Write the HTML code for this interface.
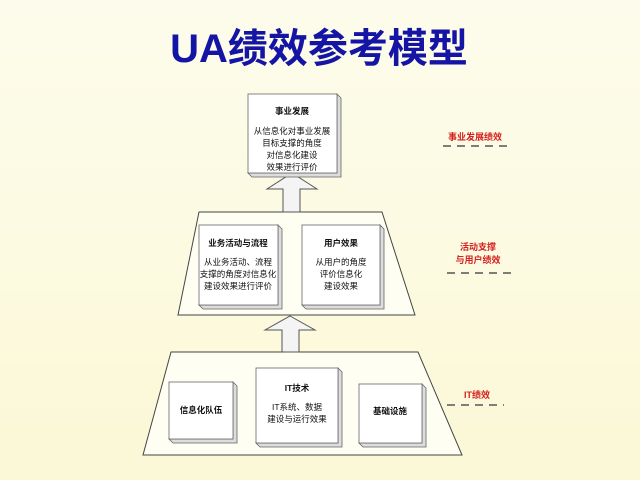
<!DOCTYPE html>
<html><head><meta charset="utf-8"><style>
html,body{margin:0;padding:0}
body{width:640px;height:480px;overflow:hidden;background:linear-gradient(180deg,#fdfcec 0%,#fbf8d6 100%);font-family:"Liberation Sans","Noto Sans CJK SC",sans-serif;}
</style></head><body>
<svg width="640" height="480" xmlns="http://www.w3.org/2000/svg" style="position:absolute;left:0;top:0;font-family:'Liberation Sans','Noto Sans CJK SC',sans-serif">
<text x="319" y="62" text-anchor="middle" font-size="40" font-weight="bold" fill="#1515a5">UA绩效参考模型</text>
<polygon points="199,212 382,212 415,315 178,315" fill="#fefef2" stroke="#444" stroke-width="1"/>
<polygon points="171,352 418,352 462,455 143,455" fill="#fefef2" stroke="#444" stroke-width="1"/>
<polygon points="292,173 317,189 300,189 300,212 283,212 283,189 267,189" fill="#f4f4f4" stroke="#555" stroke-width="1"/>
<polygon points="290,316 315,330 299,330 299,352 282,352 282,330 265,330" fill="#f4f4f4" stroke="#555" stroke-width="1"/>
<g stroke="#666" stroke-width="0.8">
<polygon points="337,94 341,98 341,177 252,177 248,173 337,173" fill="#ddd"/>
<rect x="248" y="94" width="89" height="79" fill="#fff"/>
<polygon points="278,225 282,229 282,309 203,309 199,305 278,305" fill="#ddd"/>
<rect x="199" y="225" width="79" height="80" fill="#fff"/>
<polygon points="380,225 384,229 384,309 306,309 302,305 380,305" fill="#ddd"/>
<rect x="302" y="225" width="78" height="80" fill="#fff"/>
<polygon points="233,382 237,386 237,443 173,443 169,439 233,439" fill="#ddd"/>
<rect x="169" y="382" width="64" height="57" fill="#fff"/>
<polygon points="338,368 342,372 342,447 260,447 256,443 338,443" fill="#ddd"/>
<rect x="256" y="368" width="82" height="75" fill="#fff"/>
<polygon points="422,384 426,388 426,447 363,447 359,443 422,443" fill="#ddd"/>
<rect x="359" y="384" width="63" height="59" fill="#fff"/>
</g>
<g font-size="8.5" fill="#111" text-anchor="middle">
<text x="292" y="114" font-weight="bold">事业发展</text>
<text x="292" y="134">从信息化对事业发展</text>
<text x="292" y="146">目标支撑的角度</text>
<text x="292" y="158">对信息化建设</text>
<text x="292" y="170">效果进行评价</text>
<text x="238" y="246" font-weight="bold">业务活动与流程</text>
<text x="238" y="265">从业务活动、流程</text>
<text x="238" y="277">支撑的角度对信息化</text>
<text x="238" y="289">建设效果进行评价</text>
<text x="341" y="246" font-weight="bold">用户效果</text>
<text x="341" y="265">从用户的角度</text>
<text x="341" y="277">评价信息化</text>
<text x="341" y="289">建设效果</text>
<text x="201" y="413" font-weight="bold">信息化队伍</text>
<text x="297" y="391" font-weight="bold">IT技术</text>
<text x="297" y="410">IT系统、数据</text>
<text x="297" y="422">建设与运行效果</text>
<text x="390" y="414" font-weight="bold">基础设施</text>
</g>
<g font-size="9" fill="#d42020" text-anchor="middle" font-weight="bold">
<text x="475" y="140">事业发展绩效</text>
<text x="478" y="250">活动支撑</text>
<text x="478" y="263">与用户绩效</text>
<text x="477" y="398">IT绩效</text>
</g>
<g stroke="#555" stroke-width="1.5" stroke-dasharray="8,6">
<line x1="443" y1="146" x2="510" y2="146"/>
<line x1="447" y1="273" x2="512" y2="273"/>
<line x1="447" y1="405" x2="504" y2="405"/>
</g>
</svg>
</body></html>
